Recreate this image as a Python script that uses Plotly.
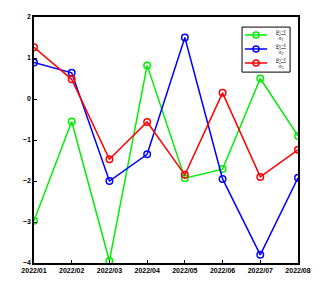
import plotly.graph_objects as go

months = ["2022/01", "2022/02", "2022/03", "2022/04", "2022/05", "2022/06", "2022/07", "2022/08"]
series1 = [-2.97, -0.55, -3.95, 0.82, -1.93, -1.71, 0.5, -0.9]
series2 = [0.89, 0.64, -2.0, -1.35, 1.5, -1.95, -3.8, -1.92]
series3 = [1.26, 0.48, -1.47, -0.56, -1.85, 0.15, -1.9, -1.24]
names = [
    "<u>μ<sub>1</sub>−r</u><br>σ<sub>1</sub>",
    "<u>μ<sub>2</sub>−r</u><br>σ<sub>2</sub>",
    "<u>μ<sub>3</sub>−r</u><br>σ<sub>3</sub>",
]
colors = ["#00ee00", "#0000ff", "#ff0000"]

fig = go.Figure()
for vals, nm, c in zip([series1, series2, series3], names, colors):
    fig.add_trace(go.Scatter(
        x=list(range(len(months))), y=vals, name=nm, mode="lines+markers",
        line=dict(color=c, width=1.5), showlegend=False,
        marker=dict(symbol="circle-open", size=6.5, color=c, line=dict(width=1.5, color=c)),
    ))

# legend drawn in paper coordinates
fig.add_shape(type="rect", xref="paper", yref="paper", x0=0.788, x1=0.970,
              y0=0.776, y1=0.959, line=dict(color="black", width=1), fillcolor="white")
rows = [0.927, 0.870, 0.813]
for ry, nm, c in zip(rows, names, colors):
    fig.add_shape(type="line", xref="paper", yref="paper", x0=0.799, x1=0.883,
                  y0=ry, y1=ry, line=dict(color=c, width=1.5))
    fig.add_shape(type="circle", xref="paper", yref="paper", xsizemode="pixel",
                  ysizemode="pixel", xanchor=0.841, yanchor=ry, x0=-3, x1=3, y0=-3, y1=3,
                  line=dict(color=c, width=1.5))
    fig.add_annotation(xref="paper", yref="paper", x=0.936, y=ry, text=nm,
                       showarrow=False, xanchor="center", yanchor="middle",
                       font=dict(size=5.5, color="black", family="Liberation Serif"),
                       align="center")

tf = dict(size=7, family="Liberation Sans, Arial", color="black", weight="bold")
fig.update_layout(
    width=328, height=283,
    margin=dict(l=26, r=38, t=9, b=28),
    paper_bgcolor="white", plot_bgcolor="white",
    font=dict(family="Liberation Sans, Arial", size=7, color="black"),
    showlegend=False,
)
fig.update_xaxes(
    range=[0, len(months) - 1], tickmode="array",
    tickvals=list(range(len(months))), ticktext=months,
    showgrid=False, zeroline=False, showline=True, linecolor="black", linewidth=1.5,
    mirror=True, ticks="inside", ticklen=3, tickcolor="black",
    tickfont=tf, automargin=False,
)
fig.update_yaxes(
    range=[-4, 2], tickmode="array", tickvals=[-4, -3, -2, -1, 0, 1, 2],
    showgrid=False, zeroline=False, showline=True, linecolor="black", linewidth=1.5,
    mirror=True, ticks="inside", ticklen=3, tickcolor="black",
    tickfont=tf, automargin=False,
)
fig.write_html("out.html")
